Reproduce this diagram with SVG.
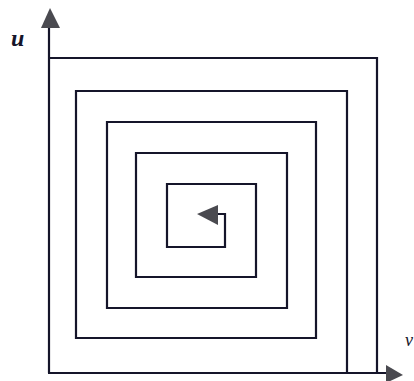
<svg xmlns="http://www.w3.org/2000/svg" width="414" height="381" viewBox="0 0 414 381">
<style>
.ln{fill:none;stroke:#15152a;stroke-width:2.2;stroke-linejoin:miter}
.ah{fill:#4a4a50;stroke:none}
.lb{font-family:"Liberation Serif",serif;font-style:italic;fill:#15152a}
</style>
<rect width="414" height="381" fill="#fff"/>
<g id="axes">
<line class="ln" x1="49" y1="373" x2="49" y2="26"/>
<polygon class="ah" points="50,8 41,28 60,28"/>
<line class="ln" x1="48" y1="373" x2="389" y2="373"/>
<polygon class="ah" points="386,365 403,375 386,383"/>
</g>
<g id="labels">
<text class="lb" x="11" y="46" font-size="24" font-weight="bold">u</text>
<text class="lb" x="405" y="346" font-size="18">v</text>
</g>
<g id="connectors">
<polyline class="ln" points="49,58 377,58 377,373"/>
<polyline class="ln" points="347,373 347,91 76,91 76,338 316,338 316,122 107,122 107,308 287,308 287,153 136,153 136,277 256,277 256,184 167,184 167,247 225,247 225,214 214,214"/>
<polygon class="ah" points="197,214 218,205 218,225"/>
</g>
</svg>
